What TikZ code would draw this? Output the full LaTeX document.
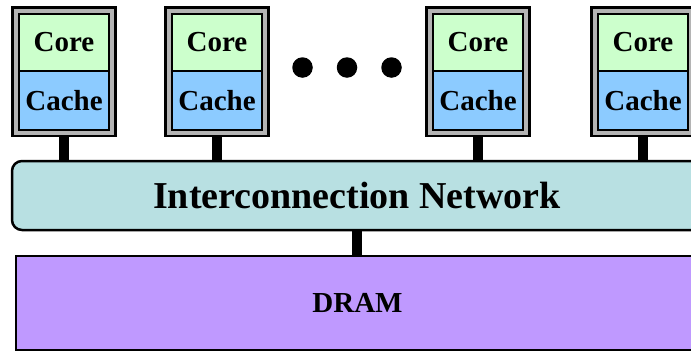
\documentclass[tikz,border=0pt]{standalone}
\usepackage{fontspec}
\setmainfont{Liberation Serif}
\definecolor{corecol}{HTML}{CCFFCC}
\definecolor{cachecol}{HTML}{8CCBFF}
\definecolor{netcol}{HTML}{B8E0E2}
\definecolor{dramcol}{HTML}{BF99FF}
\definecolor{framecol}{HTML}{B4B4B4}

\begin{document}
\begin{tikzpicture}[x=1pt,y=-1pt,
    tile/.style={draw,line width=2.5pt,fill=framecol,minimum width=103pt,minimum height=128.5pt,inner sep=0pt},
    part/.style={draw,line width=2pt,minimum width=90pt,inner sep=0pt,font=\fontsize{29}{29}\selectfont\bfseries},
    link/.style={line width=9.5pt},
    dot/.style={circle,fill,inner sep=0pt,minimum size=20.5pt}]
    \useasboundingbox (0,0) rectangle (691,354);
    \clip (0,0) rectangle (691,354);
    \node[draw,line width=2.5pt,rounded corners=10pt,fill=netcol,minimum width=690pt,minimum height=69pt,
        font=\fontsize{38}{38}\selectfont\bfseries] (net) at (357,195.5) {Interconnection Network};
    \node[draw,line width=2.5pt,fill=dramcol,minimum width=683pt,minimum height=94pt,
        font=\fontsize{29}{29}\selectfont\bfseries] (dram) at (357.5,303) {DRAM};
    \draw[link] (net.south) -- (net.south |- dram.north);
    \foreach \i/\x in {1/64,2/217,3/478,4/643} {
        \node[tile] (t\i) at (\x,71.75) {};
        \node[part,fill=corecol,minimum height=57.5pt] (c\i) at (\x,42.25) {Core};
        \node[part,fill=cachecol,minimum height=58.5pt] (k\i) at (\x,100.25) {Cache};
        \draw[link] (t\i.south) -- (t\i.south |- net.north);
    }
    \foreach \i/\x in {1/302.5,2/347,3/391.5}
        \node[dot] (d\i) at (\x,67.5) {};
\end{tikzpicture}
\end{document}
